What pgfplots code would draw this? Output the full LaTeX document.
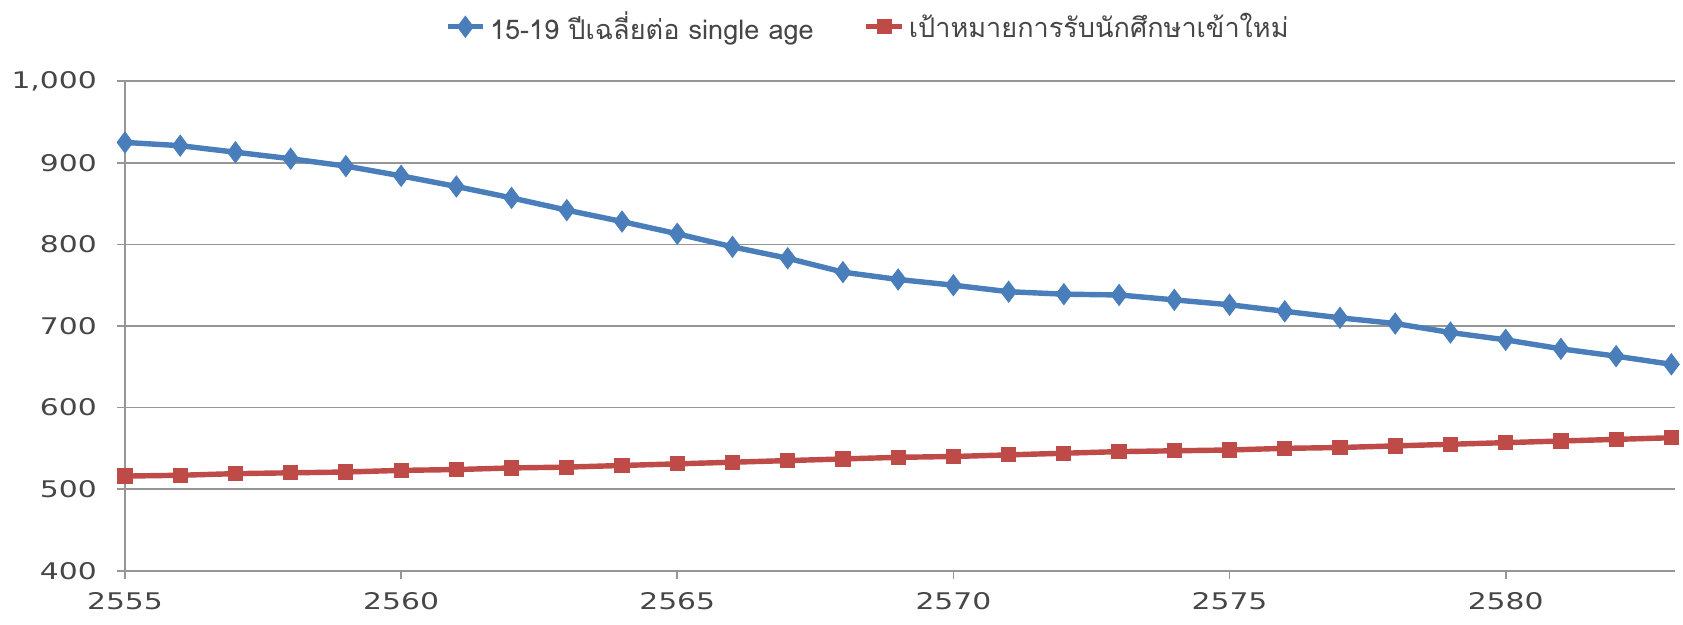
\documentclass[border=0pt]{standalone}
\usepackage{pgfplots}
\pgfplotsset{compat=1.18}
\usepackage{fontspec}
\setmainfont{DejaVu Sans}
\newfontfamily\tickfont[FakeStretch=1.30]{DejaVu Sans}
\newfontfamily\thaifont[Script=Thai]{Loma}
\definecolor{sblue}{RGB}{74,126,187}
\definecolor{sred}{RGB}{190,75,72}
\definecolor{gridc}{RGB}{150,150,150}
\definecolor{txt}{RGB}{70,70,70}
\begin{document}
\begin{tikzpicture}
\begin{axis}[
  scale only axis,
  width=744pt, height=235pt,
  xmin=2555, xmax=2583.06,
  ymin=400, ymax=1000,
  xtick={2555,2560,2565,2570,2575,2580},
  ytick={400,500,...,1000},
  axis lines*=left,
  axis line style={gridc, line width=0.8pt},
  ymajorgrids,
  grid style={gridc, line width=0.8pt},
  tick style={gridc, line width=0.8pt},
  tick align=outside,
  major tick length=4pt,
  x tick label style={/pgf/number format/1000 sep={}, font=\tickfont\fontsize{11}{12}\selectfont, text=txt, yshift=-3pt},
  y tick label style={/pgf/number format/1000 sep={,}, font=\tickfont\fontsize{11}{12}\selectfont, text=txt, xshift=-6pt},
  /pgf/number format/assume math mode=true,
  clip=false,
  legend style={at={(0.48,1.066)}, anchor=south, draw=none, legend columns=2,
    font=\thaifont\fontsize{13}{15}\selectfont, text=txt, inner sep=1pt,
    /tikz/every even column/.append style={column sep=22pt}},
  legend image code/.code={
    \draw[#1, mark repeat=2, mark phase=2] plot coordinates {(0cm,0cm) (0.3cm,0cm) (0.6cm,0cm)};
  },
]
\addplot[sblue, line width=2.6pt, mark=diamond*, mark size=5pt, mark options={solid, fill=sblue, line width=0.5pt}] coordinates {
(2555,925) (2556,921) (2557,913) (2558,905) (2559,896) (2560,884) (2561,871) (2562,857)
(2563,842) (2564,828) (2565,813) (2566,797) (2567,783) (2568,766) (2569,757) (2570,750)
(2571,742) (2572,739) (2573,738) (2574,732) (2575,726) (2576,718) (2577,710) (2578,703)
(2579,692) (2580,683) (2581,672) (2582,663) (2583,653)
};
\addlegendentry{15-19 ปีเฉลี่ยต่อ single age}
\addplot[sred, line width=2.6pt, mark=square*, mark size=3.4pt, mark options={solid, fill=sred, line width=0.5pt}] coordinates {
(2555,516) (2556,517) (2557,519) (2558,520) (2559,521) (2560,523) (2561,524) (2562,526)
(2563,527) (2564,529) (2565,531) (2566,533) (2567,535) (2568,537) (2569,539) (2570,540)
(2571,542) (2572,544) (2573,546) (2574,547) (2575,548) (2576,550) (2577,551) (2578,553)
(2579,555) (2580,557) (2581,559) (2582,561) (2583,563)
};
\addlegendentry{เป้าหมายการรับนักศึกษาเข้าใหม่}
\path (rel axis cs:0,0) ++(-60pt,-26pt) (rel axis cs:1,1) ++(4pt,39pt);
\end{axis}
\end{tikzpicture}
\end{document}
